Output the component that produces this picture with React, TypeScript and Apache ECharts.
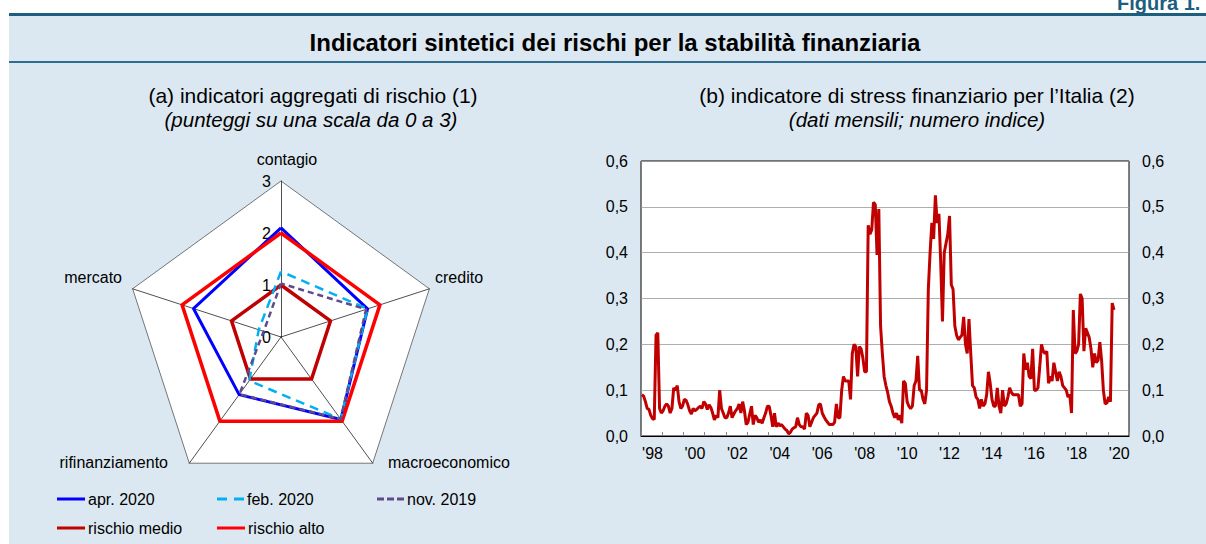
import React, { useEffect, useRef } from "react";
import * as echarts from "echarts";

// ---------- Panel (a): radar ----------
const radarAxes = ["contagio", "mercato", "rifinanziamento", "macroeconomico", "credito"];
const radarMax = 3;
const apr2020 = [2.1, 1.77, 1.37, 1.96, 1.75];
const feb2020 = [1.26, 0.45, 1.04, 1.95, 1.75];
const nov2019 = [1.03, 0.35, 1.36, 1.95, 1.72];
const rischioMedio = [1, 1, 1, 1, 1];
const rischioAlto = [2, 2, 2, 2, 2];

// ---------- Panel (b): monthly stress index, Jan 1998 - Apr 2020 ----------
const firstYear = 1998;
const lastYear = 2020;
const stressIndex = [
  // 1998
  0.09, 0.087, 0.075, 0.06, 0.058, 0.045, 0.038, 0.036, 0.22, 0.225, 0.06, 0.05,
  // 1999
  0.055, 0.065, 0.07, 0.065, 0.05, 0.06, 0.105, 0.1, 0.11, 0.075, 0.06, 0.065,
  // 2000
  0.08, 0.078, 0.068, 0.055, 0.048, 0.06, 0.055, 0.058, 0.062, 0.065, 0.06, 0.075,
  // 2001
  0.07, 0.058, 0.068, 0.062, 0.05, 0.035, 0.045, 0.04, 0.1, 0.06, 0.05, 0.04,
  // 2002
  0.04, 0.05, 0.065, 0.04, 0.048, 0.055, 0.06, 0.07, 0.05, 0.075, 0.055, 0.025,
  // 2003
  0.03, 0.048, 0.065, 0.025, 0.045, 0.04, 0.03, 0.035, 0.028, 0.04, 0.05, 0.065,
  // 2004
  0.065, 0.045, 0.02, 0.05, 0.02, 0.028, 0.022, 0.025, 0.02, 0.015, 0.012, 0.005,
  // 2005
  0.008, 0.015, 0.018, 0.02, 0.04, 0.025, 0.02, 0.02, 0.015, 0.05, 0.045, 0.02,
  // 2006
  0.03, 0.04, 0.045, 0.05, 0.068, 0.07, 0.05, 0.042, 0.035, 0.03, 0.025, 0.025,
  // 2007
  0.025, 0.03, 0.07, 0.04, 0.04, 0.1, 0.13, 0.12, 0.12, 0.12, 0.08, 0.18,
  // 2008
  0.2, 0.195, 0.13, 0.195, 0.19, 0.17, 0.14, 0.14, 0.46, 0.44, 0.45, 0.51,
  // 2009
  0.505, 0.395, 0.495, 0.24, 0.18, 0.13, 0.11, 0.095, 0.075, 0.065, 0.05, 0.04,
  // 2010
  0.05, 0.035, 0.045, 0.028, 0.12, 0.115, 0.075, 0.065, 0.06, 0.065, 0.11, 0.12,
  // 2011
  0.175, 0.1, 0.1, 0.08, 0.07, 0.1, 0.32, 0.4, 0.465, 0.43, 0.525, 0.465,
  // 2012
  0.485, 0.38, 0.25, 0.4, 0.42, 0.44, 0.48, 0.33, 0.32, 0.24, 0.22, 0.21,
  // 2013
  0.215, 0.22, 0.26, 0.2, 0.18, 0.255, 0.18, 0.11, 0.105, 0.085, 0.08, 0.06,
  // 2014
  0.08, 0.065, 0.07, 0.09, 0.14, 0.115, 0.08, 0.065, 0.065, 0.105, 0.065, 0.05,
  // 2015
  0.1, 0.065, 0.07, 0.085, 0.105, 0.095, 0.09, 0.09, 0.09, 0.09, 0.065, 0.07,
  // 2016
  0.18, 0.145, 0.16, 0.13, 0.125, 0.19, 0.1, 0.1, 0.105, 0.15, 0.2, 0.185,
  // 2017
  0.18, 0.185, 0.115, 0.13, 0.12, 0.16, 0.14, 0.12, 0.14, 0.13, 0.11, 0.105,
  // 2018
  0.1, 0.085, 0.09, 0.05, 0.275, 0.18, 0.185, 0.2, 0.31, 0.3, 0.185, 0.235,
  // 2019
  0.225, 0.215, 0.19, 0.15, 0.18, 0.16, 0.165, 0.205, 0.165, 0.1, 0.07, 0.072,
  // 2020
  0.085, 0.075, 0.29, 0.275,
];
const yTicks = { min: 0, max: 0.6, step: 0.1 };

const months: string[] = [];
for (let y = firstYear; y <= lastYear; y++) {
  for (let m = 1; m <= 12; m++) months.push(`${y}-${m < 10 ? "0" + m : m}`);
}

const FONT = "'Liberation Sans', Arial, Helvetica, sans-serif";

export default function App() {
  const ref = useRef<HTMLDivElement>(null);

  useEffect(() => {
    if (!ref.current) return;
    const chart = echarts.init(ref.current, null, { renderer: "svg" });

    const legendBase = {
      orient: "horizontal",
      padding: 0,
      itemWidth: 28,
      itemHeight: 3,
      selectedMode: false,
      textStyle: { fontSize: 16, color: "#000", fontFamily: FONT, padding: [0, 0, 0, -2] },
    };

    const yFmt = (v: number) => v.toFixed(1).replace(".", ",");

    const option: any = {
      animation: false,
      textStyle: { fontFamily: FONT },
      graphic: [
        {
          type: "text",
          x: 1117,
          y: 13,
          style: { text: "Figura 1.", font: `bold 20px ${FONT}`, fill: "#1d5d7e", textVerticalAlign: "bottom" },
        },
        {
          type: "text",
          x: 615,
          y: 42,
          style: {
            text: "Indicatori sintetici dei rischi per la stabilità finanziaria",
            font: `bold 24px ${FONT}`,
            fill: "#000",
            textAlign: "center",
            textVerticalAlign: "middle",
          },
        },
        {
          type: "text",
          x: 313,
          y: 95,
          style: { text: "(a) indicatori aggregati di rischio (1)", font: `21px ${FONT}`, fill: "#000", textAlign: "center", textVerticalAlign: "middle" },
        },
        {
          type: "text",
          x: 311,
          y: 119,
          style: { text: "(punteggi su una scala da 0 a 3)", font: `italic 20.5px ${FONT}`, fill: "#000", textAlign: "center", textVerticalAlign: "middle" },
        },
        {
          type: "text",
          x: 917,
          y: 95,
          style: { text: "(b) indicatore di stress finanziario per l\u2019Italia (2)", font: `21px ${FONT}`, fill: "#000", textAlign: "center", textVerticalAlign: "middle" },
        },
        {
          type: "text",
          x: 917,
          y: 119,
          style: { text: "(dati mensili; numero indice)", font: `italic 20.5px ${FONT}`, fill: "#000", textAlign: "center", textVerticalAlign: "middle" },
        },
        // radar axis names
        { type: "text", x: 287, y: 159, style: { text: radarAxes[0], font: `16px ${FONT}`, fill: "#000", textAlign: "center", textVerticalAlign: "middle" } },
        { type: "text", x: 122, y: 277, style: { text: radarAxes[1], font: `16px ${FONT}`, fill: "#000", textAlign: "right", textVerticalAlign: "middle" } },
        { type: "text", x: 168, y: 462, style: { text: radarAxes[2], font: `16px ${FONT}`, fill: "#000", textAlign: "right", textVerticalAlign: "middle" } },
        { type: "text", x: 388, y: 462, style: { text: radarAxes[3], font: `16px ${FONT}`, fill: "#000", textAlign: "left", textVerticalAlign: "middle" } },
        { type: "text", x: 435, y: 277, style: { text: radarAxes[4], font: `16px ${FONT}`, fill: "#000", textAlign: "left", textVerticalAlign: "middle" } },
      ],
      legend: [
        { ...legendBase, left: 57, top: 491, data: [{ name: "apr. 2020", icon: "rect" }] },
        { ...legendBase, left: 217, top: 491, itemWidth: 27, data: [{ name: "feb. 2020", icon: "path://M0,0h10v3h-10zM17,0h10v3h-10z" }] },
        { ...legendBase, left: 377, top: 491, itemWidth: 27, data: [{ name: "nov. 2019", icon: "path://M0,0h7v3h-7zM10,0h7v3h-7zM20,0h7v3h-7z" }] },
        { ...legendBase, left: 57, top: 520, data: [{ name: "rischio medio", icon: "rect" }] },
        { ...legendBase, left: 217, top: 520, data: [{ name: "rischio alto", icon: "rect" }] },
      ],
      radar: {
        center: [281, 337],
        radius: 156,
        startAngle: 90,
        splitNumber: 3,
        shape: "polygon",
        axisName: { show: false },
        indicator: radarAxes.map((name, i) =>
          i === 0
            ? {
                name,
                min: 0,
                max: radarMax,
                axisLabel: { show: true, fontSize: 16, color: "#000", margin: 10, fontFamily: FONT },
              }
            : { name, min: 0, max: radarMax }
        ),
        axisLabel: { show: false },
        axisTick: { show: false },
        axisLine: { lineStyle: { color: "#222", width: 0.8 } },
        splitLine: { lineStyle: { color: "#555", width: 0.8 } },
        splitArea: { show: true, areaStyle: { color: ["#fff", "#fff", "#fff"] } },
      },
      grid: {
        left: 641,
        right: 77,
        top: 161,
        bottom: 108,
        show: true,
        backgroundColor: "#fff",
        borderColor: "#000",
        borderWidth: 1,
      },
      xAxis: {
        type: "category",
        data: months,
        boundaryGap: true,
        axisLine: { show: true, lineStyle: { color: "#000", width: 1 } },
        axisTick: {
          show: true,
          inside: true,
          length: 4,
          interval: (i: number) => i % 12 === 0,
          lineStyle: { color: "#888" },
        },
        axisLabel: {
          interval: (i: number) => i % 24 === 6,
          formatter: (v: string) => "'" + v.slice(2, 4),
          fontSize: 16,
          color: "#000",
          margin: 9,
          fontFamily: FONT,
        },
        splitLine: { show: false },
      },
      yAxis: [
        {
          type: "value",
          position: "left",
          min: yTicks.min,
          max: yTicks.max,
          interval: yTicks.step,
          axisLine: { show: false },
          axisTick: { show: false },
          axisLabel: { formatter: yFmt, fontSize: 16, color: "#000", margin: 13, fontFamily: FONT },
          splitLine: { show: true, lineStyle: { color: "#999", width: 0.8 } },
        },
        {
          type: "value",
          position: "right",
          min: yTicks.min,
          max: yTicks.max,
          interval: yTicks.step,
          axisLine: { show: false },
          axisTick: { show: false },
          axisLabel: { formatter: yFmt, fontSize: 16, color: "#000", margin: 13, fontFamily: FONT },
          splitLine: { show: false },
        },
      ],
      series: [
        {
          type: "radar",
          symbol: "none",
          silent: true,
          data: [
            { name: "apr. 2020", value: apr2020, lineStyle: { color: "#0000ff", width: 3 }, itemStyle: { color: "#0000ff" } },
            { name: "rischio alto", value: rischioAlto, lineStyle: { color: "#ff0000", width: 3.5 }, itemStyle: { color: "#ff0000" } },
            { name: "rischio medio", value: rischioMedio, lineStyle: { color: "#c00000", width: 3.5 }, itemStyle: { color: "#c00000" } },
            { name: "feb. 2020", value: feb2020, lineStyle: { color: "#00b0f0", width: 2.5, type: [9, 6] }, itemStyle: { color: "#00b0f0" } },
            { name: "nov. 2019", value: nov2019, lineStyle: { color: "#5f4b8b", width: 2.5, type: [6, 4] }, itemStyle: { color: "#5f4b8b" } },
          ],
        },
        {
          type: "line",
          name: "stress",
          xAxisIndex: 0,
          yAxisIndex: 0,
          data: stressIndex,
          showSymbol: false,
          symbol: "none",
          lineStyle: { color: "#c00000", width: 3 },
          silent: true,
        },
      ],
    };

    chart.setOption(option);
    return () => chart.dispose();
  }, []);

  return (
    <div style={{ position: "fixed", left: 0, top: 0, width: 1206, height: 544, background: "#fff", overflow: "hidden" }}>
      <div style={{ position: "absolute", left: 9, top: 14, right: 0, bottom: 0, background: "#dce8f1" }} />
      <div style={{ position: "absolute", left: 9, top: 13, right: 0, height: 3, background: "#1d5d7e" }} />
      <div style={{ position: "absolute", left: 9, top: 61, right: 0, height: 2, background: "#2e6e8e" }} />
      <div ref={ref} style={{ position: "absolute", left: 0, top: 0, width: 1206, height: 544 }} />
    </div>
  );
}
